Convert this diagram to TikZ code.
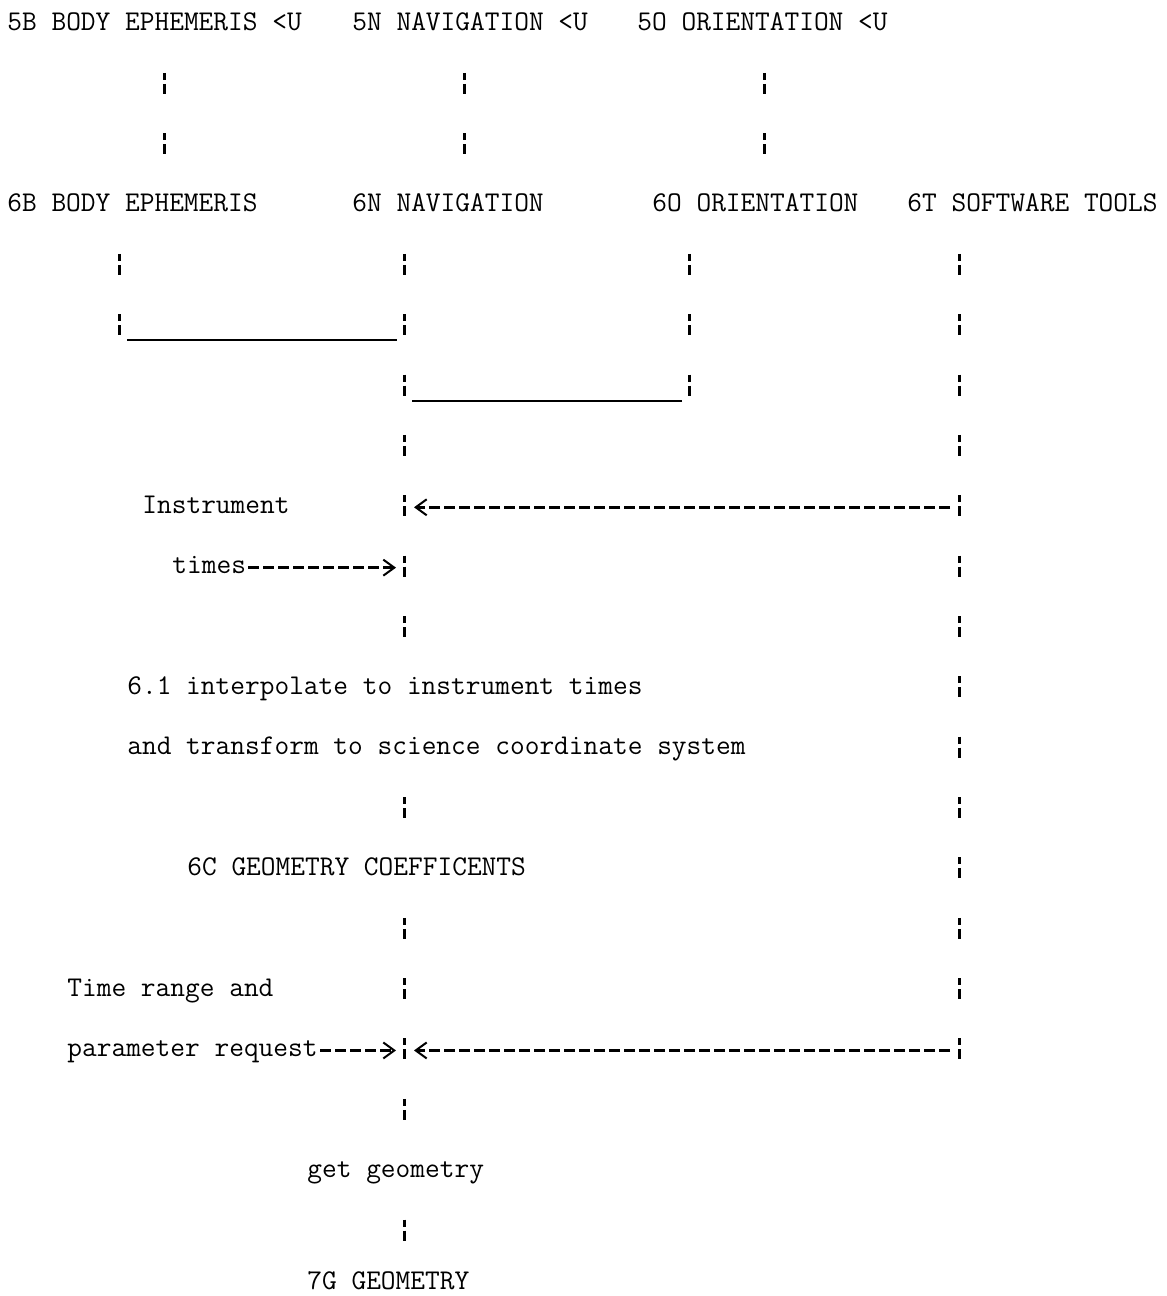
\documentclass[tikz,border=0pt]{standalone}
\usepackage{fontspec}
\usetikzlibrary{arrows.meta}
\begin{document}
\begin{tikzpicture}[x=0.5pt, y=-0.5pt,
    txt/.style = {anchor=base west, inner sep=0pt, font=\ttfamily\fontsize{14.29pt}{17pt}\selectfont},
    bars/.style = {line width=1.2pt, dash pattern=on 3.5pt off 2pt on 5pt off 19.675pt, shorten <=21.175pt},
    flow/.style = {line width=1.4pt, dash pattern=on 5.5pt off 2pt, dash phase=6.5pt, -{Straight Barb[length=5.5pt, width=8pt, line width=1pt]}},
    back/.style = {flow, shorten <=3.75pt, shorten >=4.75pt},
    tie/.style = {line width=1pt, shorten <=3.75pt, shorten >=3.75pt}]
    \useasboundingbox (0,0) rectangle (1167,1296);
    \node[txt] (b5) at (7,30.5) {5B BODY EPHEMERIS <U};
    \node[txt] (n5) at (352,30.5) {5N NAVIGATION <U};
    \node[txt] (o5) at (637,30.5) {5O ORIENTATION <U};
    \node[txt] (b6) at (7,211.55) {6B BODY EPHEMERIS};
    \node[txt] (n6) at (352,211.55) {6N NAVIGATION};
    \node[txt] (o6) at (652,211.55) {6O ORIENTATION};
    \node[txt] (t6) at (907,211.55) {6T SOFTWARE TOOLS};
    \node[txt] (instr) at (142,513.3) {Instrument};
    \node[txt] (times) at (172,573.65) {times};
    \node[txt] (interp) at (127,694.35) {6.1 interpolate to instrument times};
    \node[txt] (xform) at (127,754.7) {and transform to science coordinate system};
    \node[txt] (coef) at (187,875.4) {6C GEOMETRY COEFFICENTS};
    \node[txt] (trange) at (67,996.1) {Time range and};
    \node[txt] (preq) at (67,1056.45) {parameter request};
    \node[txt] (getg) at (307,1177.15) {get geometry};
    \node[txt] (g7) at (307,1289) {7G GEOMETRY};
    \foreach \c in {7,10,26,30,45,50,63}
        \coordinate (c\c) at ({14.5+15*\c},0);
    \coordinate (j1) at (119.5,340.3);
    \coordinate (j2) at (404.5,340.3);
    \coordinate (j3) at (689.5,400.6);
    \coordinate (j4) at (404.5,400.6);
    \coordinate (tend) at (959.5,1064);
    \coordinate (a8) at (0,507.3);
    \coordinate (a9) at (0,567.65);
    \coordinate (a17) at (0,1050.45);
    \draw[bars, shorten >=15pt] (b5.base -| c10) -- (b6.base -| c10);
    \draw[bars, shorten >=15pt] (n5.base -| c30) -- (n6.base -| c30);
    \draw[bars, shorten >=15pt] (o5.base -| c50) -- (o6.base -| c50);
    \draw[bars] (b6.base -| c7) -- (j1);
    \draw[tie] (j1) -- (j2);
    \draw[bars] (o6.base -| c45) -- (j3);
    \draw[tie] (j3) -- (j4);
    \draw[bars] (t6.base -| c63) -- (tend);
    \draw[bars, shorten >=15pt] (n6.base -| c26) -- (interp.base -| c26);
    \draw[bars, shorten >=15pt] (xform.base -| c26) -- (coef.base -| c26);
    \draw[bars, shorten >=15pt] (coef.base -| c26) -- (getg.base -| c26);
    \draw[bars, shorten >=15pt] (getg.base -| c26) -- (g7.base -| c26);
    \draw[back] (a8 -| c63) -- (a8 -| c26);
    \draw[flow, shorten >=4.25pt] (times.east |- a9) -- (a9 -| c26);
    \draw[flow, shorten >=4.25pt] (preq.east |- a17) -- (a17 -| c26);
    \draw[back] (a17 -| c63) -- (a17 -| c26);
\end{tikzpicture}
\end{document}
